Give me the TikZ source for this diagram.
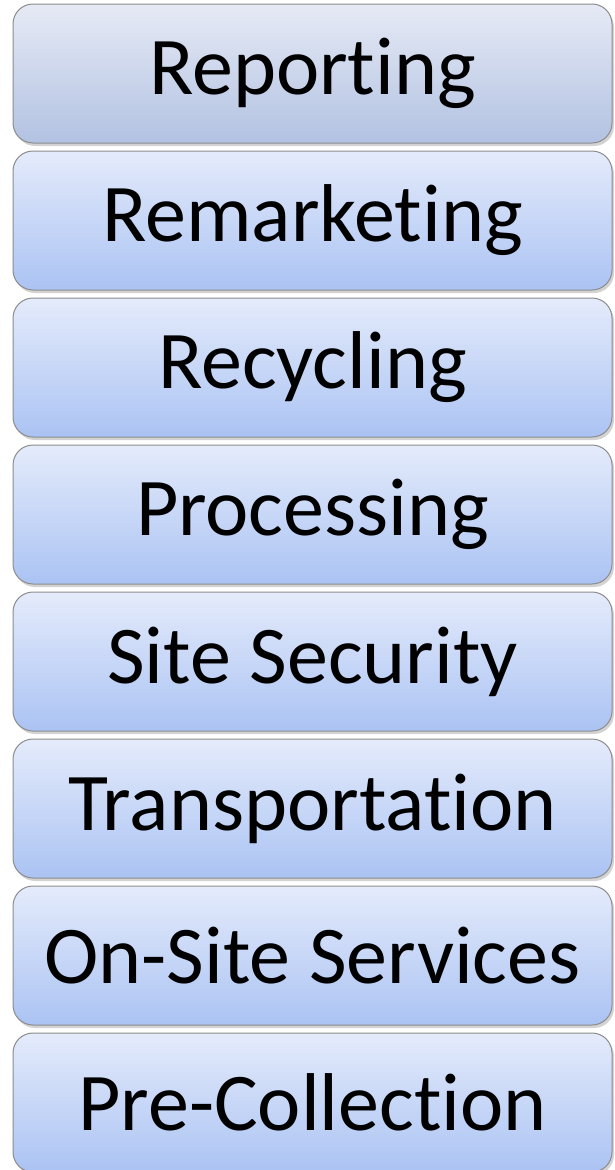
\documentclass[tikz,border=0pt]{standalone}
\usepackage{fontspec}
\setmainfont{Carlito}[Ligatures=NoCommon,RawFeature=-liga]
\usepackage{tikz}
\usetikzlibrary{positioning,shadows}
\definecolor{steptop}{HTML}{E4EBFB}
\definecolor{stepbot}{HTML}{ABC3F3}
\definecolor{reptop}{HTML}{E6EAF5}
\definecolor{repbot}{HTML}{B2C2E2}
\definecolor{stepline}{HTML}{8C8C8C}

\begin{document}
\begin{tikzpicture}[x=1pt,y=1pt,
    stage/.style={draw=stepline,line width=1pt,rounded corners=20pt,
        top color=steptop,bottom color=stepbot,
        minimum width=599pt,minimum height=139pt,inner sep=0pt,outer sep=0pt,
        drop shadow={shadow xshift=2pt,shadow yshift=-3pt,opacity=.35},
        font=\fontsize{82}{98}\selectfont},
    node distance=8pt]
    \useasboundingbox (0,0) rectangle (614,-1170);
    \node[stage,top color=reptop,bottom color=repbot] (reporting) at (312.5,-73.5) {Reporting};
    \node[stage,below=of reporting] (remarketing) {Remarketing};
    \node[stage,below=of remarketing] (recycling) {Recycling};
    \node[stage,below=of recycling] (processing) {Processing};
    \node[stage,below=of processing] (security) {Site Security};
    \node[stage,below=of security] (transport) {Transportation};
    \node[stage,below=of transport] (onsite) {On-Site Services};
    \node[stage,below=of onsite] (precollect) {Pre-Collection};
\end{tikzpicture}
\end{document}
